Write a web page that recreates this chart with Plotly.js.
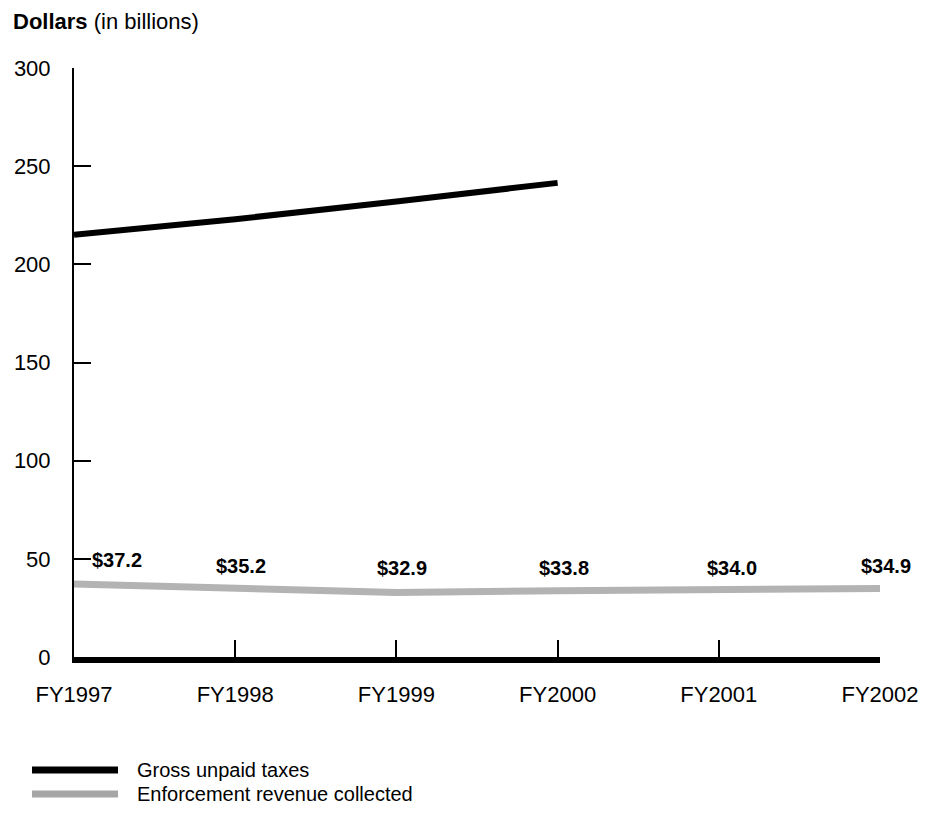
<!DOCTYPE html>
<html>
<head>
<meta charset="utf-8">
<script src="https://cdn.plot.ly/plotly-3.0.1.min.js"></script>
<style>html,body{margin:0;padding:0;background:#fff;}#chart{width:936px;height:814px;}</style>
</head>
<body>
<div id="chart"></div>
<script>
var categories = ["FY1997", "FY1998", "FY1999", "FY2000", "FY2001", "FY2002"];
var grossUnpaid = [215, 223, 232, 241.5, null, null];
var enforcement = [37.2, 35.2, 32.9, 33.8, 34.0, 34.9];
var enforcementLabels = ["$37.2", "$35.2", "$32.9", "$33.8", "$34.0", "$34.9"];
var yTicks = [0, 50, 100, 150, 200, 250, 300];

var FONT = "Liberation Sans, Arial, Helvetica, sans-serif";
var xIdx = categories.map(function(c, i){ return i; });

var traces = [
  {x: xIdx, y: grossUnpaid, mode: "lines", line: {color: "#000000", width: 6}, showlegend: false, hoverinfo: "skip", connectgaps: false},
  {x: xIdx, y: enforcement, mode: "lines", line: {color: "#b3b3b3", width: 7}, showlegend: false, hoverinfo: "skip"}
];

var labelShift = [{dx: 43, dy: 24}, {dx: 6, dy: 22}, {dx: 6, dy: 24}, {dx: 6, dy: 23}, {dx: 13, dy: 22}, {dx: 6, dy: 22.5}];
var annotations = enforcement.map(function(v, i){
  return {x: i, y: v, xref: "x", yref: "y", text: "<b>" + enforcementLabels[i] + "</b>", showarrow: false,
    xshift: labelShift[i].dx, yshift: labelShift[i].dy, yanchor: "middle", xanchor: "center",
    font: {family: FONT, size: 20, color: "#000"}};
});
annotations.push({xref: "paper", yref: "paper", x: (11 - 74) / 806, y: (657 - 21) / 589, xanchor: "left", yanchor: "middle",
  text: "<b>Dollars</b> (in billions)", showarrow: false, font: {family: FONT, size: 22, color: "#000"}});

var legendItems = [
  {name: "Gross unpaid taxes", color: "#000000", py: 770},
  {name: "Enforcement revenue collected", color: "#a6a6a6", py: 794}
];
var shapes = [];
legendItems.forEach(function(it){
  var yp = (657 - it.py) / 589;
  shapes.push({type: "line", xref: "paper", yref: "paper", x0: (32 - 74) / 806, x1: (118 - 74) / 806, y0: yp, y1: yp,
    line: {color: it.color, width: 7}});
  annotations.push({xref: "paper", yref: "paper", x: (135 - 74) / 806, y: yp, xanchor: "left", yanchor: "middle",
    text: it.name, showarrow: false, font: {family: FONT, size: 20, color: "#000"}});
});

var layout = {
  width: 936, height: 814,
  margin: {l: 74, r: 56, t: 68, b: 157, pad: 0},
  paper_bgcolor: "#fff", plot_bgcolor: "#fff",
  font: {family: FONT, size: 22, color: "#000"},
  showlegend: false,
  xaxis: {
    range: [0, 5], tickmode: "array", tickvals: xIdx, ticktext: categories,
    showgrid: false, zeroline: false, showline: true, linecolor: "#000", linewidth: 6,
    ticks: "inside", ticklen: 17, tickwidth: 2, tickcolor: "#000",
    tickfont: {family: FONT, size: 22, color: "#000"}, ticklabelstandoff: 13, fixedrange: true
  },
  yaxis: {
    range: [0, 300], tickmode: "array", tickvals: yTicks, ticktext: yTicks.map(String),
    showgrid: false, zeroline: false, showline: true, linecolor: "#000", linewidth: 2,
    ticks: "inside", ticklen: 17, tickwidth: 2, tickcolor: "#000",
    tickfont: {family: FONT, size: 22, color: "#000"}, ticklabelstandoff: 17, fixedrange: true
  },
  annotations: annotations,
  shapes: shapes
};

Plotly.newPlot("chart", traces, layout, {displayModeBar: false, staticPlot: true});
</script>
</body>
</html>
